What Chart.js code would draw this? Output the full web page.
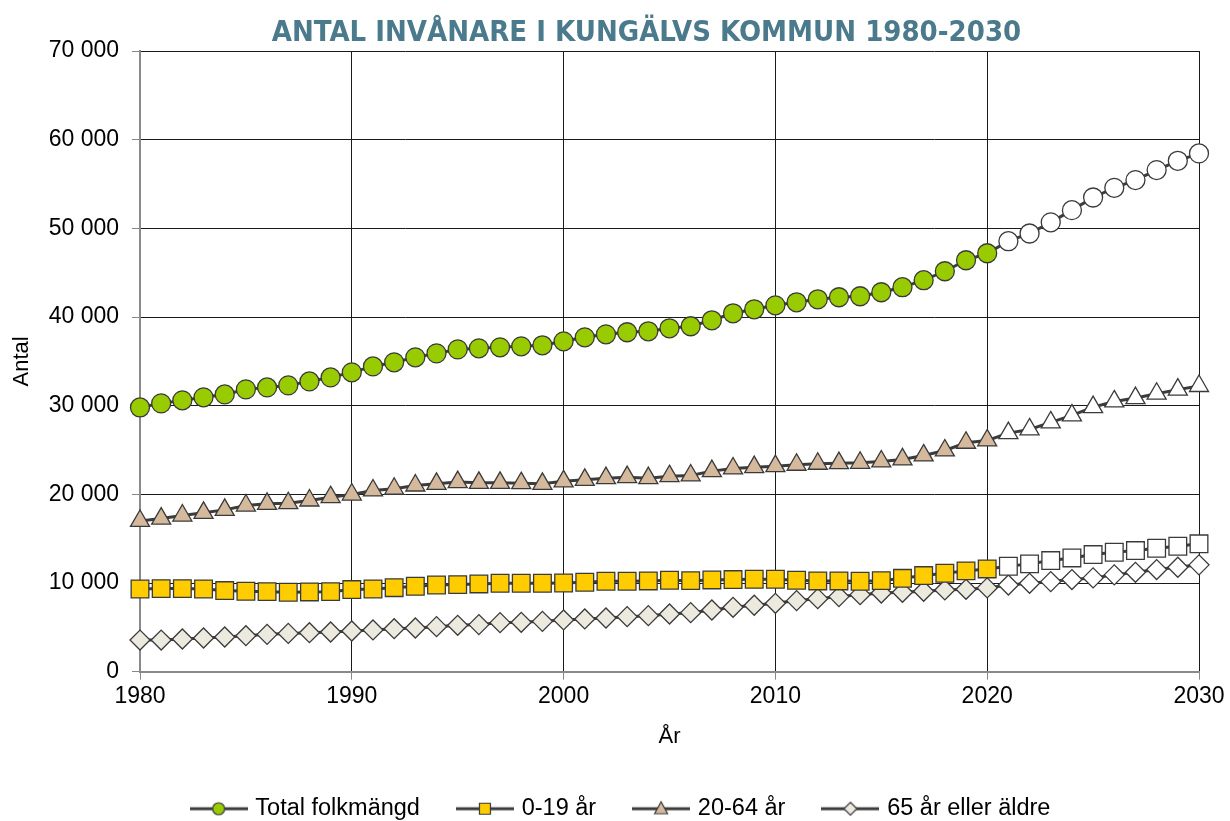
<!DOCTYPE html>
<html><head><meta charset="utf-8">
<script src="https://cdn.jsdelivr.net/npm/chart.js@4/dist/chart.umd.min.js"></script>
<style>html,body{margin:0;padding:0;background:#fff}#wrap{width:1230px;height:821px}</style>
</head><body><div id="wrap"><canvas id="c" width="1230" height="821"></canvas></div>
<script>
const years = [1980,1981,1982,1983,1984,1985,1986,1987,1988,1989,1990,1991,1992,1993,1994,1995,1996,1997,1998,1999,2000,2001,2002,2003,2004,2005,2006,2007,2008,2009,2010,2011,2012,2013,2014,2015,2016,2017,2018,2019,2020,2021,2022,2023,2024,2025,2026,2027,2028,2029,2030];
const lastActualYear = 2020;
const total = [29800,30260,30600,30940,31270,31840,32060,32290,32740,33190,33760,34430,34890,35450,35900,36350,36470,36580,36690,36810,37260,37710,38050,38280,38390,38730,38960,39630,40420,40870,41320,41660,42000,42230,42340,42790,43360,44150,45160,46400,47190,48550,49420,50680,52050,53480,54570,55440,56570,57620,58450];
const age0to19 = [9330,9370,9370,9330,9150,9070,9030,8960,9000,9030,9260,9330,9480,9630,9780,9820,9900,9970,9970,9970,10010,10090,10200,10200,10240,10310,10270,10350,10390,10420,10420,10310,10240,10240,10200,10270,10530,10840,11100,11370,11590,11890,12160,12530,12830,13210,13470,13660,13920,14150,14420];
const age20to64 = [17000,17270,17610,17920,18250,18740,18930,19000,19310,19680,19980,20440,20630,21000,21190,21380,21300,21300,21260,21190,21470,21640,21830,21940,21830,22050,22130,22620,22920,23070,23180,23340,23450,23520,23560,23710,23940,24390,24950,25820,26080,26910,27320,28110,28900,29840,30480,30860,31350,31810,32220];
const age65plus = [3570,3570,3690,3800,3910,4060,4210,4320,4400,4480,4590,4710,4850,4930,5080,5230,5310,5530,5570,5680,5840,5950,6060,6210,6320,6510,6660,6960,7260,7490,7710,8020,8240,8470,8690,8880,8960,9070,9220,9290,9450,9780,9970,10160,10390,10580,10920,11210,11520,11780,12050];
const seriesNames = ['Total folkmängd','0-19 år','20-64 år','65 år eller äldre'];
const xTicks = [1980,1990,2000,2010,2020,2030];
const yTicks = [0,10000,20000,30000,40000,50000,60000,70000];
const chartTitle = 'ANTAL INVÅNARE I KUNGÄLVS KOMMUN 1980-2030';

const LINE = '#3c3c3c';
const MBORDER = '#3a3a3a';
const styles = [
  {fill:'#99cc00', shape:'circle', r:9.5},
  {fill:'#ffcc00', shape:'rect', r:12.5},
  {fill:'#d4b99d', shape:'triangle', r:11},
  {fill:'#ece9df', shape:'rectRot', r:10}
];
const values = [total, age0to19, age20to64, age65plus];

function legendIcon(st){
  const c = document.createElement('canvas');
  c.width = 58; c.height = 22;
  const g = c.getContext('2d');
  g.strokeStyle = LINE; g.lineWidth = 3;
  g.beginPath(); g.moveTo(0,11); g.lineTo(58,11); g.stroke();
  g.fillStyle = st.fill; g.strokeStyle = MBORDER; g.lineWidth = 1.2;
  const cx = 29, cy = 11;
  g.beginPath();
  if (st.shape==='circle'){ g.arc(cx,cy,6,0,Math.PI*2); }
  else if (st.shape==='rect'){ g.rect(cx-5.5,cy-5.5,11,11); }
  else if (st.shape==='triangle'){ g.moveTo(cx,cy-7); g.lineTo(cx+6.5,cy+5); g.lineTo(cx-6.5,cy+5); g.closePath(); }
  else { g.moveTo(cx,cy-6.5); g.lineTo(cx+6.5,cy); g.lineTo(cx,cy+6.5); g.lineTo(cx-6.5,cy); g.closePath(); }
  g.fill(); g.stroke();
  return c;
}
const icons = styles.map(legendIcon);

const datasets = values.map((vals,i)=>({
  label: seriesNames[i],
  data: vals,
  borderColor: LINE,
  borderWidth: 3,
  pointStyle: styles[i].shape,
  pointRadius: styles[i].r,
  pointHoverRadius: styles[i].r,
  pointBackgroundColor: years.map(y => y <= lastActualYear ? styles[i].fill : '#ffffff'),
  pointBorderColor: MBORDER,
  pointBorderWidth: 1.3,
  tension: 0,
  clip: false,
  order: i
}));

function fmt(v){ return String(v).replace(/\B(?=(\d{3})+(?!\d))/g,' '); }

// shift legend and title horizontally to match the original composition
const shiftPlugin = {
  id: 'shiftBoxes',
  afterLayout(chart){
    if (chart.legend) { chart.legend.left += 45; }
    if (chart.titleBlock) { chart.titleBlock.left += 94; }
  }
};

new Chart(document.getElementById('c'), {
  type: 'line',
  data: { labels: years, datasets },
  plugins: [shiftPlugin],
  options: {
    responsive: false,
    animation: false,
    devicePixelRatio: 1,
    layout: { padding: { left: 0, right: 31, top: 0, bottom: -9.5 } },
    plugins: {
      tooltip: { enabled: false },
      title: {
        display: true, text: chartTitle, color: '#4a7a8c',
        font: { family: "'Liberation Sans Narrow','DejaVu Sans Condensed',Arial,sans-serif", size: 29, weight: 'bold' },
        padding: { top: 15.6, bottom: 0.6 }
      },
      legend: {
        position: 'bottom',
        labels: {
          usePointStyle: true, pointStyleWidth: 50, padding: 40,
          color: '#000',
          font: { family: "'Liberation Sans',Arial,sans-serif", size: 23.5 },
          generateLabels: (chart) => chart.data.datasets.map((ds,i)=>({
            text: ds.label, pointStyle: icons[i], datasetIndex: i,
            fillStyle: styles[i].fill, strokeStyle: LINE, lineWidth: 0, hidden: false
          }))
        }
      }
    },
    scales: {
      x: {
        type: 'linear', min: 1980, max: 2030,
        afterBuildTicks: (s) => { s.ticks = xTicks.map(v=>({value:v})); },
        ticks: { color: '#000', padding: 3, maxRotation: 0, autoSkip: false,
          font: { family: "'Liberation Sans',Arial,sans-serif", size: 23 },
          callback: (v) => String(v) },
        grid: { color: '#1a1a1a', lineWidth: 1, tickLength: 8, tickColor: '#888' },
        border: { color: '#8a8a8a', width: 2 },
        title: { display: true, text: 'År', color: '#000',
          font: { family: "'Liberation Sans',Arial,sans-serif", size: 22 }, padding: { top: 10, bottom: 7.3 } }
      },
      y: {
        min: 0, max: 70000,
        afterBuildTicks: (s) => { s.ticks = yTicks.map(v=>({value:v})); },
        afterFit: (s) => { s.width = 140; },
        ticks: { color: '#000', padding: 13,
          font: { family: "'Liberation Sans',Arial,sans-serif", size: 23 },
          callback: (v) => fmt(v) },
        grid: { color: '#1a1a1a', lineWidth: 1, tickLength: 8, tickColor: '#888' },
        border: { color: '#8a8a8a', width: 2 },
        title: { display: true, text: 'Antal', color: '#000',
          font: { family: "'Liberation Sans',Arial,sans-serif", size: 22 }, padding: { top: 9, bottom: 0 } }
      }
    }
  }
});
</script></body></html>
